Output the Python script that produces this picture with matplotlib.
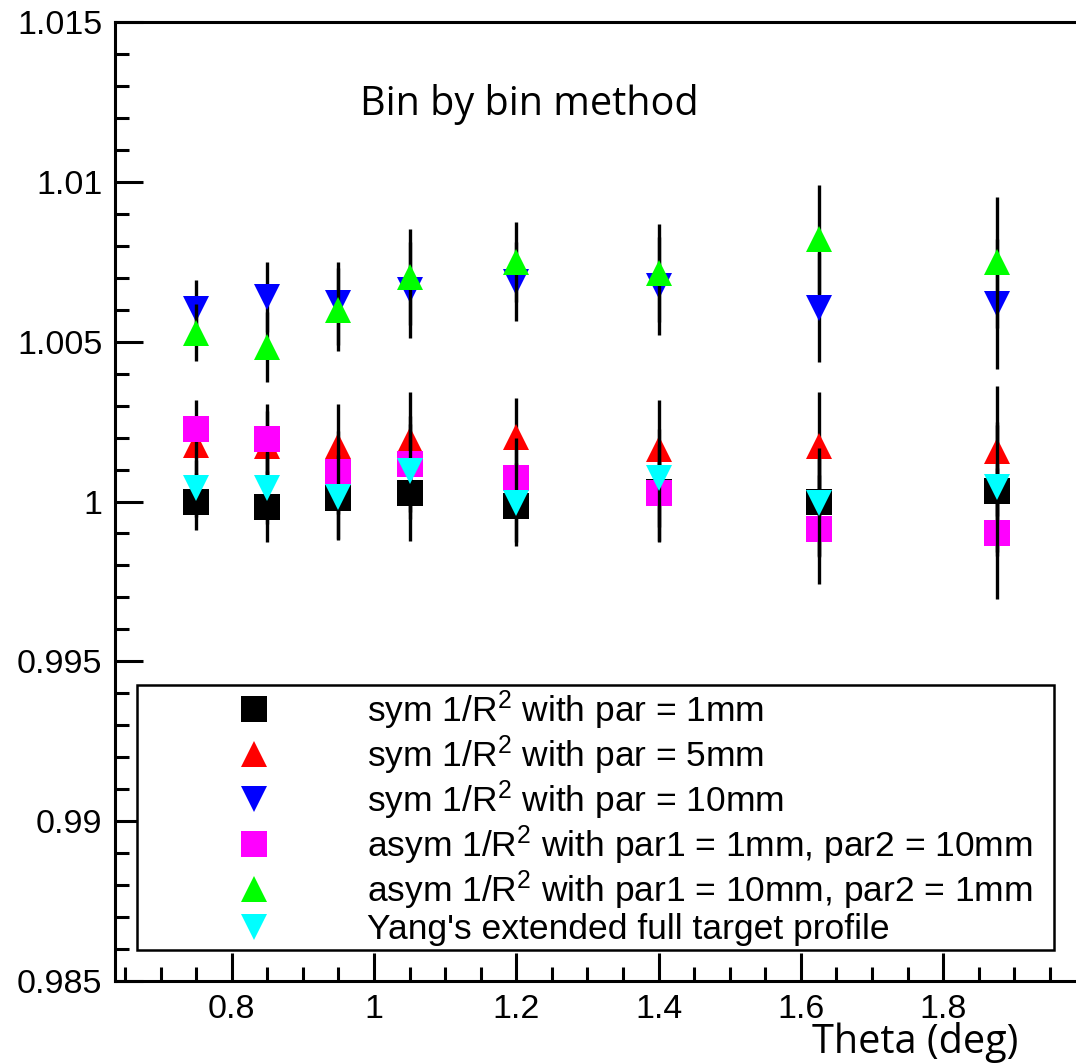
import matplotlib
matplotlib.use("Agg")
import matplotlib.pyplot as plt
from matplotlib.lines import Line2D
from matplotlib.ticker import FixedLocator, MultipleLocator

plt.rcParams["font.family"] = ["Liberation Sans", "DejaVu Sans"]
plt.rcParams["mathtext.fontset"] = "custom"
plt.rcParams["mathtext.rm"] = "Liberation Sans"
plt.rcParams["mathtext.default"] = "regular"

# ---- data ----
theta = [0.75, 0.85, 0.95, 1.05, 1.2, 1.4, 1.625, 1.875]

sym_1mm   = [1.00000, 0.99984, 1.00010, 1.00027, 0.99986, 1.00030, 1.00000, 1.00034]
sym_5mm   = [1.00177, 1.00174, 1.00174, 1.00192, 1.00201, 1.00163, 1.00174, 1.00158]
sym_10mm  = [1.00603, 1.00640, 1.00620, 1.00661, 1.00688, 1.00675, 1.00606, 1.00617]
asym_1_10 = [1.00226, 1.00195, 1.00092, 1.00117, 1.00074, 1.00027, 0.99913, 0.99900]
asym_10_1 = [1.00528, 1.00483, 1.00600, 1.00703, 1.00749, 1.00716, 1.00820, 1.00748]
yang      = [1.00041, 1.00041, 1.00014, 1.00094, 0.99996, 1.00073, 0.99996, 1.00045]

stat_err = [0.0009, 0.0011, 0.0013, 0.0015, 0.00124, 0.00153, 0.0017, 0.00204]

labels = [
    r"sym 1/R$^{2}$ with par = 1mm",
    r"sym 1/R$^{2}$ with par = 5mm",
    r"sym 1/R$^{2}$ with par = 10mm",
    r"asym 1/R$^{2}$ with par1 = 1mm, par2 = 10mm",
    r"asym 1/R$^{2}$ with par1 = 10mm, par2 = 1mm",
    "Yang's extended full target profile",
]
markers = ["s", "^", "v", "s", "^", "v"]
colors = ["#000000", "#ff0000", "#0000ff", "#ff00ff", "#00ff00", "#00ffff"]
series = [sym_1mm, sym_5mm, sym_10mm, asym_1_10, asym_10_1, yang]

xticks = [0.8, 1.0, 1.2, 1.4, 1.6, 1.8]
xtick_labels = ["0.8", "1", "1.2", "1.4", "1.6", "1.8"]
yticks = [0.985, 0.99, 0.995, 1.0, 1.005, 1.01, 1.015]
ytick_labels = ["0.985", "0.99", "0.995", "1", "1.005", "1.01", "1.015"]

# ---- figure ----
W, H = 1076, 1064
fig = plt.figure(figsize=(W / 100, H / 100), dpi=100)
ax = fig.add_axes([115 / W, 83 / H, 961 / W, 959 / H])

for i, (vals, mk, col) in enumerate(zip(series, markers, colors)):
    ax.errorbar(theta, vals, yerr=stat_err, fmt=mk, color=col, ms=18.5, mew=0,
                ecolor="black", elinewidth=2.4, capsize=3.5, capthick=3,
                zorder=2 + i)

ax.set_xlim(0.636, 1.9866)
ax.set_ylim(0.985, 1.015)

ax.xaxis.set_major_locator(FixedLocator(xticks))
ax.set_xticklabels(xtick_labels)
ax.xaxis.set_minor_locator(MultipleLocator(0.05))
ax.yaxis.set_major_locator(FixedLocator(yticks))
ax.set_yticklabels(ytick_labels)
ax.yaxis.set_minor_locator(MultipleLocator(0.001))

ax.tick_params(which="both", direction="in", width=2.2, top=False, right=False,
               labelsize=24.5)
ax.tick_params(which="major", length=20)
ax.tick_params(which="minor", length=10)
ax.tick_params(axis="y", pad=9)
ax.tick_params(axis="x", pad=9)

for s in ["left", "bottom", "top"]:
    ax.spines[s].set_linewidth(2.2)
ax.spines["right"].set_visible(False)

ax.set_xlabel("Theta (deg)", fontsize=28.5, family="Open Sans", ha="right",
              va="baseline")
ax.xaxis.set_label_coords(0.9396, -0.0751)

fig.text(360 / W, 1 - 115 / H, "Bin by bin method", fontsize=28.5,
         family="Open Sans", va="baseline", ha="left")

handles = [Line2D([], [], ls="none", marker=mk, color=col, ms=18.5, mew=0)
           for mk, col in zip(markers, colors)]
leg = ax.legend(handles, labels, loc="upper left",
                bbox_to_anchor=(0.0229, 0.0344, 0.9542, 0.2743), mode="expand",
                borderaxespad=0, fontsize=25.5, frameon=True, fancybox=False,
                edgecolor="black", framealpha=1, borderpad=0.1,
                handlelength=6.4, handletextpad=0.0, labelspacing=0.04)
leg.get_frame().set_linewidth(1.8)

fig.savefig("out.png", dpi=100)
